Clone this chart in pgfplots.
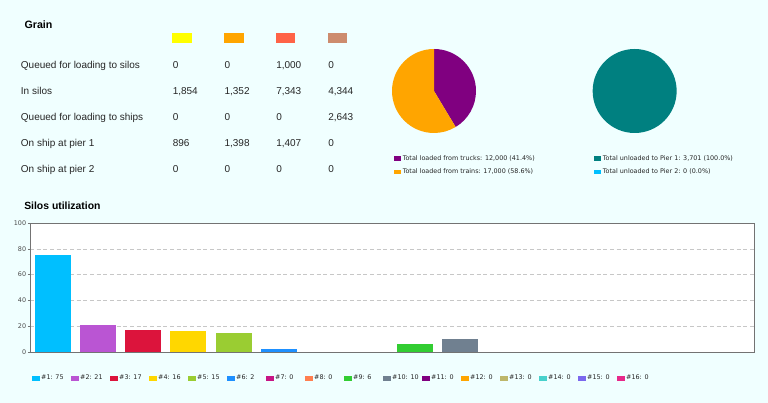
\documentclass[border=0pt]{standalone}
\usepackage{pgfplots}
\pgfplotsset{compat=1.18}
\usepackage{fontspec}
\setmainfont{Liberation Sans}
\newfontfamily\dv{DejaVu Sans}
\definecolor{bgc}{RGB}{240,255,255}
\definecolor{sw1}{RGB}{255,255,0}
\definecolor{sw2}{RGB}{255,165,0}
\definecolor{sw3}{RGB}{255,99,71}
\definecolor{sw4}{RGB}{205,140,110}
\definecolor{c1}{RGB}{0,191,255}
\definecolor{c2}{RGB}{186,85,211}
\definecolor{c3}{RGB}{220,20,60}
\definecolor{c4}{RGB}{255,215,0}
\definecolor{c5}{RGB}{154,205,50}
\definecolor{c6}{RGB}{30,144,255}
\definecolor{c7}{RGB}{199,21,133}
\definecolor{c8}{RGB}{255,127,80}
\definecolor{c9}{RGB}{50,205,50}
\definecolor{c10}{RGB}{112,128,144}
\definecolor{c11}{RGB}{128,0,128}
\definecolor{c12}{RGB}{255,165,0}
\definecolor{c13}{RGB}{189,183,107}
\definecolor{c14}{RGB}{72,209,204}
\definecolor{c15}{RGB}{123,104,238}
\definecolor{c16}{RGB}{231,41,138}
\definecolor{pcp}{RGB}{128,0,128}
\definecolor{pco}{RGB}{255,165,0}
\definecolor{pct}{RGB}{0,128,128}
\definecolor{pcb}{RGB}{0,191,255}
\newcommand\lbox[1]{\makebox[16pt][l]{#1}}
\newcommand\smallfont{\dv\fontsize{4.8}{5.6}\selectfont}
% pie data: trucks 12000, trains 17000; pier 1 3701, pier 2 0
\edef\angTrucks{\fpeval{360*12000/(12000+17000)}}
\edef\angTrains{\fpeval{360*17000/(12000+17000)}}
\edef\angPierA{\fpeval{360*3701/(3701+0)}}
\pgfplotsset{zerobar/.style={fill opacity=0, legend image post style={fill opacity=1}}}
\begin{document}
\begin{tikzpicture}
\fill[bgc] (0,0) rectangle (576pt,302.25pt);
\begin{scope}[x=0.75pt,y=-0.75pt,yshift=302.25pt]
  \node[anchor=base west,inner sep=0pt,font=\bfseries\fontsize{8}{9}\selectfont] at (24.3,28.3) {Grain};
  \node[anchor=base west,inner sep=0pt,font=\bfseries\fontsize{7.8}{9}\selectfont] at (24,210) {Silos utilization};
  \fill[sw1] (172.3,32.7) rectangle (192,42.7);
  \fill[sw2] (224,32.7) rectangle (243.7,42.7);
  \fill[sw3] (276,32.7) rectangle (295.3,42.7);
  \fill[sw4] (327.7,32.7) rectangle (347,42.7);
  \begin{scope}[every node/.style={anchor=base west,inner sep=0pt,font=\fontsize{7.5}{9}\selectfont,text=black!85}]
    \node at (20.7,68.3) {Queued for loading to silos};
    \node at (20.7,94.3) {In silos};
    \node at (20.7,120.3) {Queued for loading to ships};
    \node at (20.7,146.3) {On ship at pier 1};
    \node at (20.7,172.3) {On ship at pier 2};
    \node at (172.5,68.3) {0};     \node at (224.3,68.3) {0};     \node at (276,68.3) {1,000};  \node at (328,68.3) {0};
    \node at (172.5,94.3) {1,854}; \node at (224.3,94.3) {1,352}; \node at (276,94.3) {7,343};  \node at (328,94.3) {4,344};
    \node at (172.5,120.3) {0};    \node at (224.3,120.3) {0};    \node at (276,120.3) {0};     \node at (328,120.3) {2,643};
    \node at (172.5,146.3) {896};  \node at (224.3,146.3) {1,398};\node at (276,146.3) {1,407}; \node at (328,146.3) {0};
    \node at (172.5,172.3) {0};    \node at (224.3,172.3) {0};    \node at (276,172.3) {0};     \node at (328,172.3) {0};
  \end{scope}
\end{scope}

% Left pie
\begin{axis}[at={(325.5pt,234pt)}, anchor=center, hide axis,
  x=31.5pt, y=31.5pt, xmin=-1, xmax=1, ymin=-1, ymax=1,
  legend image code/.code={\fill[#1] (0pt,-1.7pt) rectangle (5.25pt,1.7pt);},
  legend style={draw=none, fill=none, inner sep=0pt, at={(0.024,-0.264)}, anchor=north west,
    font=\smallfont, text=black!85, row sep=5.4pt,
    nodes={inner xsep=1.1pt, inner ysep=0pt, text height=3.5pt, text depth=1.1pt}},
  legend cell align=left]
\addlegendimage{fill=pcp, draw=none}
\addlegendentry{Total loaded from trucks: 12,000 (41.4\%)}
\addlegendimage{fill=pco, draw=none}
\addlegendentry{Total loaded from trains: 17,000 (58.6\%)}
\fill[pcp] (axis cs:0,0) -- (axis cs:0,1) arc[start angle=90, delta angle=-\angTrucks, radius=31.5pt] -- cycle;
\fill[pco] (axis cs:0,0) -- (axis cs:0,1) arc[start angle=90, delta angle=\angTrains, radius=31.5pt] -- cycle;
\end{axis}

% Right pie
\begin{axis}[at={(476pt,234pt)}, anchor=center, hide axis,
  x=31.5pt, y=31.5pt, xmin=-1, xmax=1, ymin=-1, ymax=1,
  legend image code/.code={\fill[#1] (0pt,-1.7pt) rectangle (5.25pt,1.7pt);},
  legend style={draw=none, fill=none, inner sep=0pt, at={(0.018,-0.264)}, anchor=north west,
    font=\smallfont, text=black!85, row sep=5.4pt,
    nodes={inner xsep=1.1pt, inner ysep=0pt, text height=3.5pt, text depth=1.1pt}},
  legend cell align=left]
\addlegendimage{fill=pct, draw=none}
\addlegendentry{Total unloaded to Pier 1: 3,701 (100.0\%)}
\addlegendimage{fill=pcb, draw=none}
\addlegendentry{Total unloaded to Pier 2: 0 (0.0\%)}
\fill[pct] (axis cs:0,0) -- (axis cs:0,1) arc[start angle=90, delta angle=-\angPierA, radius=31.5pt] -- cycle;
\end{axis}

% Bar chart
\begin{axis}[at={(22.5pt,38.25pt)}, anchor=south west, scale only axis,
  width=543pt, height=96.75pt,
  xmin=0.5, xmax=16.5, ymin=0, ymax=100,
  ytick={0,20,...,100}, xtick=\empty,
  axis background/.style={fill=white},
  axis line style={draw=black!55},
  ymajorgrids, grid style={densely dashed, black!22},
  ytick pos=left, tick align=outside, major tick length=1.5pt, tick style={black!55},
  /pgf/number format/assume math mode=true,
  yticklabel style={font=\smallfont, text=black!70, inner sep=1.2pt},
  ybar, bar width=27pt,
  every axis plot/.append style={draw=none, bar shift=0pt},
  legend columns=16,
  legend image code/.code={\fill[#1] (0pt,-1.875pt) rectangle (6pt,1.875pt);},
  legend style={draw=none, fill=none, inner sep=0pt, at={(0.002,-0.2016)}, anchor=west,
    font=\smallfont, text=black!85,
    nodes={inner xsep=1.1pt, inner ysep=0.5pt},
    /tikz/every even column/.append style={column sep=5.05pt}},
  legend cell align=left]
\addplot[fill=c1] coordinates {(1,75)};   \addlegendentry{\lbox{\#1: 75}}
\addplot[fill=c2] coordinates {(2,21)};   \addlegendentry{\lbox{\#2: 21}}
\addplot[fill=c3] coordinates {(3,17)};   \addlegendentry{\lbox{\#3: 17}}
\addplot[fill=c4] coordinates {(4,16)};   \addlegendentry{\lbox{\#4: 16}}
\addplot[fill=c5] coordinates {(5,15)};   \addlegendentry{\lbox{\#5: 15}}
\addplot[fill=c6] coordinates {(6,2)};    \addlegendentry{\lbox{\#6: 2}}
\addplot[fill=c7, zerobar] coordinates {(7,0)};    \addlegendentry{\lbox{\#7: 0}}
\addplot[fill=c8, zerobar] coordinates {(8,0)};    \addlegendentry{\lbox{\#8: 0}}
\addplot[fill=c9] coordinates {(9,6)};    \addlegendentry{\lbox{\#9: 6}}
\addplot[fill=c10] coordinates {(10,10)}; \addlegendentry{\lbox{\#10: 10}}
\addplot[fill=c11, zerobar] coordinates {(11,0)};  \addlegendentry{\lbox{\#11: 0}}
\addplot[fill=c12, zerobar] coordinates {(12,0)};  \addlegendentry{\lbox{\#12: 0}}
\addplot[fill=c13, zerobar] coordinates {(13,0)};  \addlegendentry{\lbox{\#13: 0}}
\addplot[fill=c14, zerobar] coordinates {(14,0)};  \addlegendentry{\lbox{\#14: 0}}
\addplot[fill=c15, zerobar] coordinates {(15,0)};  \addlegendentry{\lbox{\#15: 0}}
\addplot[fill=c16, zerobar] coordinates {(16,0)};  \addlegendentry{\lbox{\#16: 0}}
\end{axis}
\pgfresetboundingbox
\useasboundingbox (0,0) rectangle (576pt,302.25pt);
\end{tikzpicture}
\end{document}
